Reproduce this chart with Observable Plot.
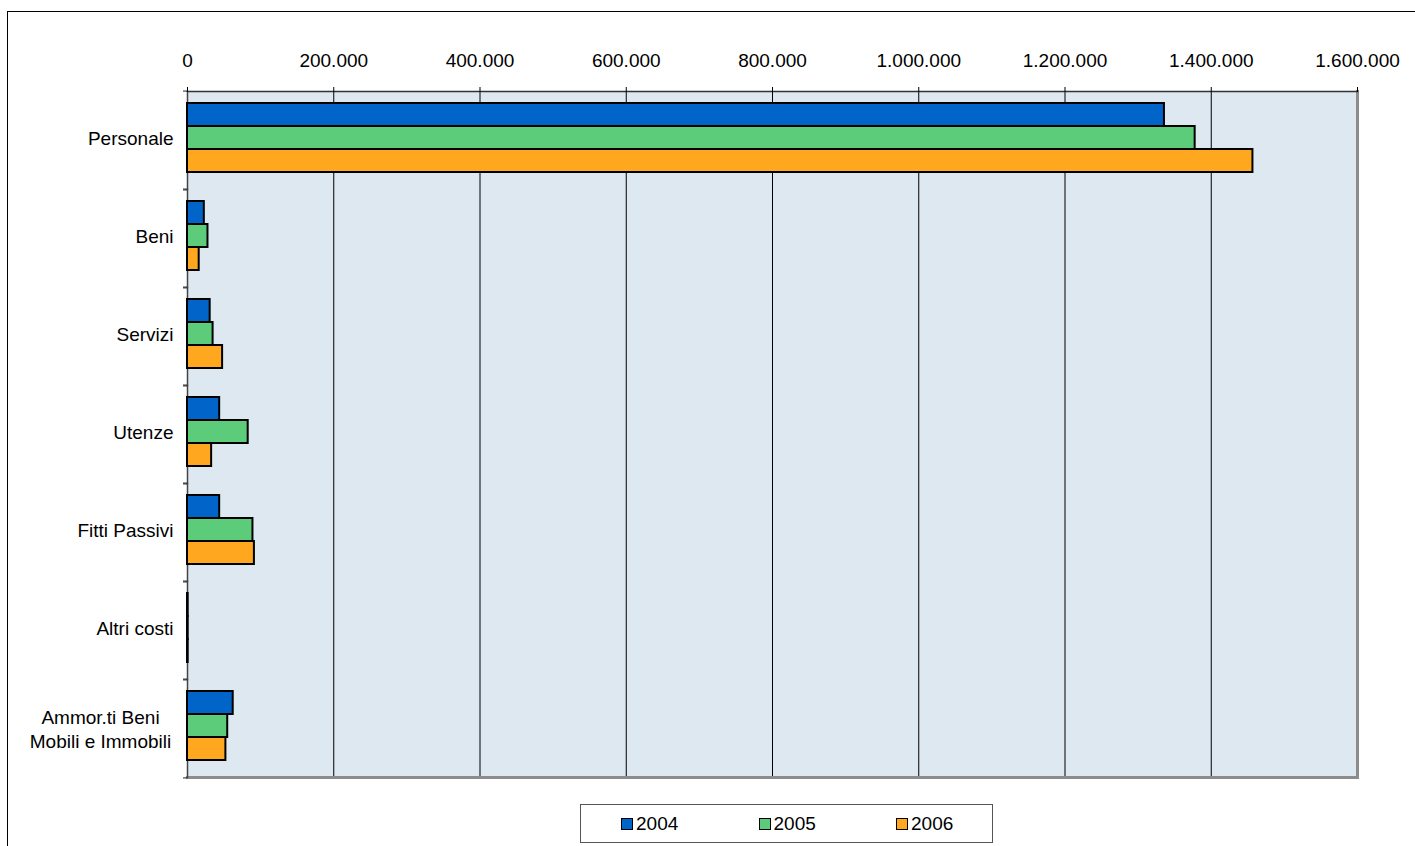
<!DOCTYPE html>
<html><head><meta charset="utf-8">
<script src="https://cdn.jsdelivr.net/npm/d3@7"></script>
<script src="https://cdn.jsdelivr.net/npm/@observablehq/plot@0.6"></script>
<style>
html,body{margin:0;padding:0;background:#fff;overflow:hidden;}
body{width:1415px;height:846px;position:relative;font-family:"Liberation Sans",Arial,sans-serif;}
#outer{position:absolute;left:7px;top:11px;width:2000px;height:2000px;border:1px solid #000;pointer-events:none;}
#chart{position:relative;}
#chart svg{display:block;}
#legend{position:relative;margin-left:580px;margin-top:4px;width:413px;height:39px;box-sizing:border-box;border:1px solid #555;background:#fff;}
.item{position:absolute;top:0;height:37px;display:flex;align-items:center;font-size:19px;color:#000;}
.sw{width:12px;height:12px;box-sizing:border-box;border:1.5px solid #000;margin-right:3px;}
</style></head><body>
<div id="outer"></div>
<div id="chart"></div>
<div id="legend"></div>
<script>
const categories = ["Personale","Beni","Servizi","Utenze","Fitti Passivi","Altri costi","Ammor.ti Beni\nMobili e Immobili"];
const years = ["2004","2005","2006"];
const values2004 = [1336000, 23000, 31000, 44000, 44000, 900, 62500];
const values2005 = [1378000, 28000, 35000, 83000, 89500, 900, 55000];
const values2006 = [1457000, 16000, 48000, 33000, 91500, 900, 52500];
const xTicks = [0, 200000, 400000, 600000, 800000, 1000000, 1200000, 1400000, 1600000];
const colors = ["#0064c8", "#5ccb7a", "#ffa81f"];

const series = [values2004, values2005, values2006];
const rows = [];
categories.forEach((c, i) => years.forEach((y, j) => rows.push({category: c, year: y, value: series[j][i]})));

const W = 1415, H = 800, mT = 88, mB = 20, mL = 187, mR = 58;
const bw = (H - mT - mB) / categories.length;
const fmt = d3.formatLocale({decimal: ",", thousands: ".", grouping: [3], currency: ["€", ""]}).format(",d");
const multi = categories.filter(c => c.includes("\n"));
const FS = 19;

const plot = Plot.plot({
  width: W, height: H, marginTop: mT, marginBottom: mB, marginLeft: mL, marginRight: mR,
  style: {fontFamily: "'Liberation Sans', Arial, sans-serif", fontSize: FS + "px", color: "#000", background: "transparent"},
  x: {domain: [0, 1600000], axis: null, label: null},
  y: {domain: years, paddingInner: 0, paddingOuter: 0.6, align: 0.42, axis: null, label: null},
  fy: {domain: categories, padding: 0, axis: null, label: null},
  color: {domain: years, range: colors},
  marks: [
    Plot.frame({fill: "#dde8f0", stroke: "none", shapeRendering: "crispEdges"}),
    Plot.gridX(xTicks, {stroke: "#000", strokeOpacity: 1, strokeWidth: 1}),
    Plot.frame({anchor: "right", stroke: "#8c8c8c", strokeWidth: 3}),
    Plot.frame({anchor: "bottom", facetAnchor: "bottom", stroke: "#8c8c8c", strokeWidth: 3}),
    Plot.frame({anchor: "top", facetAnchor: "top", stroke: "#333", strokeWidth: 1.5}),
    Plot.frame({anchor: "left", stroke: "#444", strokeWidth: 1.5}),
    Plot.barX(rows, {x: "value", y: "year", fy: "category", fill: "year", stroke: "#000", strokeWidth: 2}),
    Plot.axisX({anchor: "top", ticks: xTicks, tickFormat: fmt, tickSize: 5, tickPadding: 20, fontSize: FS, stroke: "#000", label: null}),
    Plot.axisFy({anchor: "left", tickSize: 4, tickFormat: () => "", dy: -bw / 2, stroke: "#222", label: null}),
    Plot.axisFy({anchor: "left", tickSize: 4, tickFormat: () => "", dy: bw / 2, stroke: "#222", label: null}),
    Plot.axisFy({anchor: "left", tickSize: 0, tickPadding: 14, dy: -2, fontSize: FS, fill: "#000", label: null, tickFormat: c => c.includes("\n") ? "" : c}),
    Plot.text(multi, {fy: d => d, text: d => d, frameAnchor: "left", dx: -87, textAnchor: "middle", lineHeight: 1.26, fontSize: FS, fill: "#000"})
  ]
});
document.getElementById("chart").appendChild(plot);

const legend = document.getElementById("legend");
years.forEach((y, i) => {
  const it = document.createElement("div");
  it.className = "item";
  it.style.left = (40 + i * 137.5) + "px";
  const sw = document.createElement("div");
  sw.className = "sw";
  sw.style.background = colors[i];
  const t = document.createElement("span");
  t.textContent = y;
  it.appendChild(sw); it.appendChild(t);
  legend.appendChild(it);
});
</script>
</body></html>
